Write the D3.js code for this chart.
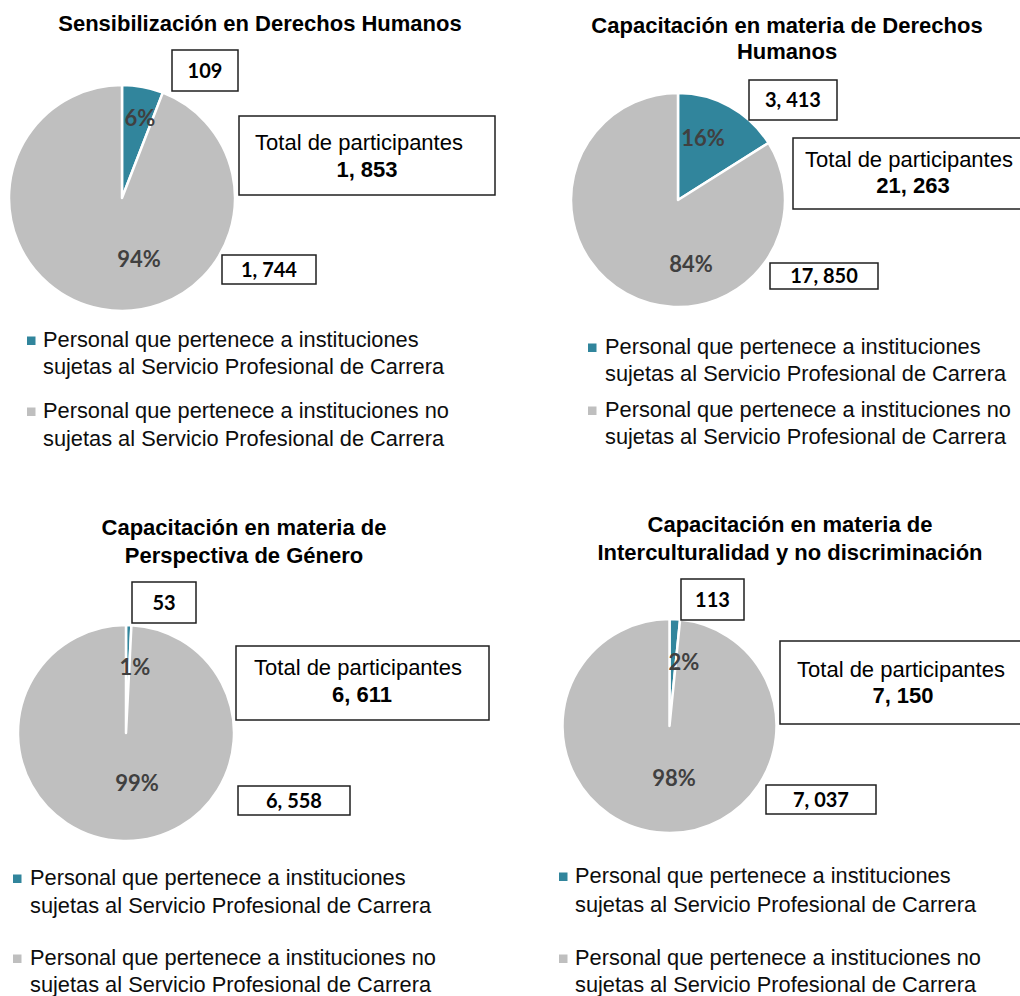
<!DOCTYPE html>
<html>
<head>
<meta charset="utf-8">
<script src="https://cdn.jsdelivr.net/npm/d3@7/dist/d3.min.js"></script>
<style>
  html, body { margin: 0; padding: 0; background: #ffffff; }
  svg { display: block; }
</style>
</head>
<body>
<svg id="chart" width="1020" height="996"></svg>
<script>
// ---------------- DATA ----------------
const chartTitles = [
  ["Sensibilización en Derechos Humanos"],
  ["Capacitación en materia de Derechos", "Humanos"],
  ["Capacitación en materia de", "Perspectiva de Género"],
  ["Capacitación en materia de", "Interculturalidad y no discriminación"]
];
const seriesNames = [
  ["Personal que pertenece a instituciones", "sujetas al Servicio Profesional de Carrera"],
  ["Personal que pertenece a instituciones no", "sujetas al Servicio Profesional de Carrera"]
];
const valuesSujetas = [109, 3413, 53, 113];
const valuesNoSujetas = [1744, 17850, 6558, 7037];
const totals = [1853, 21263, 6611, 7150];
const totalLabel = "Total de participantes";

// ---------------- LAYOUT (positions / sizes only) ----------------
const layout = [
  { title: { x: 260, y: 31, lh: 26 },
    pie: { cx: 122, cy: 198, r: 113 },
    pct: [[140, 118], [139, 259]],
    box1: { x: 172, y: 50, w: 66, h: 41 },
    box2: { x: 222, y: 255, w: 94, h: 29 },
    tbox: { x: 239, y: 116, w: 256, h: 79, t1x: 359, t1y: 150, t2x: 367, t2y: 177 },
    legend: { sx: 27, tx: 43, ys: [347, 374, 418, 446] } },
  { title: { x: 787, y: 33, lh: 25.5 },
    pie: { cx: 678, cy: 200, r: 107 },
    pct: [[703, 138], [691, 264]],
    box1: { x: 749, y: 80, w: 88, h: 40 },
    box2: { x: 770, y: 263, w: 108, h: 26 },
    tbox: { x: 793, y: 138, w: 240, h: 71, t1x: 909, t1y: 167, t2x: 913, t2y: 193 },
    legend: { sx: 588, tx: 605, ys: [354, 381, 417, 444] } },
  { title: { x: 244, y: 535, lh: 28 },
    pie: { cx: 126, cy: 733, r: 108 },
    pct: [[135, 667], [137, 783]],
    box1: { x: 132, y: 582, w: 64, h: 41 },
    box2: { x: 238, y: 786, w: 112, h: 29 },
    tbox: { x: 236, y: 646, w: 253, h: 74, t1x: 358, t1y: 675, t2x: 362, t2y: 702 },
    legend: { sx: 13, tx: 30, ys: [885, 913, 965, 992] } },
  { title: { x: 790, y: 532, lh: 28 },
    pie: { cx: 669.5, cy: 726, r: 107 },
    pct: [[684, 662], [674, 778]],
    box1: { x: 681, y: 579, w: 63, h: 41 },
    box2: { x: 766, y: 785, w: 110, h: 29 },
    tbox: { x: 780, y: 641, w: 250, h: 83, t1x: 901, t1y: 677, t2x: 903, t2y: 703 },
    legend: { sx: 559, tx: 575, ys: [883, 912, 965, 992] } }
];

const colors = d3.scaleOrdinal().domain([0, 1]).range(["#31859C", "#BFBFBF"]);
const arialFont = "Arial, 'Liberation Sans', Helvetica, sans-serif";
const calibriFont = "Lato, 'Open Sans', sans-serif";
const fmtNum = v => d3.format(",")(v).replace(/,/g, ", ");
const fmtPct = d3.format(".0%");

const svg = d3.select("#chart");
const pie = d3.pie().sort(null).value(d => d);

chartTitles.forEach((titleLines, i) => {
  const L = layout[i];
  const g = svg.append("g");
  const vals = [valuesSujetas[i], valuesNoSujetas[i]];
  const total = totals[i];

  // Title
  const t = g.append("text")
    .attr("x", L.title.x).attr("y", L.title.y)
    .attr("text-anchor", "middle")
    .style("font-family", arialFont).style("font-weight", "bold")
    .style("font-size", "22px").style("fill", "#000");
  titleLines.forEach((ln, k) => {
    t.append("tspan").attr("x", L.title.x).attr("y", L.title.y + k * L.title.lh).text(ln);
  });

  // Pie
  const arc = d3.arc().innerRadius(0).outerRadius(L.pie.r);
  const pg = g.append("g").attr("transform", `translate(${L.pie.cx},${L.pie.cy})`);
  pg.selectAll("path").data(pie(vals)).join("path")
    .attr("d", arc)
    .attr("fill", (d, k) => colors(k))
    .attr("stroke", "#ffffff")
    .attr("stroke-width", 2.5)
    .attr("stroke-linejoin", "round");

  // Percent labels
  vals.forEach((v, k) => {
    g.append("text")
      .attr("x", L.pct[k][0]).attr("y", L.pct[k][1] + 7.5)
      .attr("text-anchor", "middle")
      .style("font-family", calibriFont).style("font-weight", "bold")
      .style("font-size", "22px").style("fill", "#404040")
      .text(fmtPct(v / total));
  });

  // Value boxes
  [[L.box1, vals[0]], [L.box2, vals[1]]].forEach(([b, v]) => {
    g.append("rect")
      .attr("x", b.x).attr("y", b.y).attr("width", b.w).attr("height", b.h)
      .attr("fill", "#ffffff").attr("stroke", "#1f1f1f").attr("stroke-width", 1.5);
    g.append("text")
      .attr("x", b.x + b.w / 2).attr("y", b.y + b.h / 2 + 7)
      .attr("text-anchor", "middle")
      .style("font-family", calibriFont).style("font-weight", "bold")
      .style("font-size", "20px").style("fill", "#000")
      .text(fmtNum(v));
  });

  // Total box
  const tb = L.tbox;
  g.append("rect")
    .attr("x", tb.x).attr("y", tb.y).attr("width", tb.w).attr("height", tb.h)
    .attr("fill", "#ffffff").attr("stroke", "#1f1f1f").attr("stroke-width", 1.5);
  g.append("text")
    .attr("x", tb.t1x).attr("y", tb.t1y)
    .attr("text-anchor", "middle")
    .style("font-family", arialFont).style("font-size", "22px").style("fill", "#000")
    .text(totalLabel);
  g.append("text")
    .attr("x", tb.t2x).attr("y", tb.t2y)
    .attr("text-anchor", "middle")
    .style("font-family", arialFont).style("font-weight", "bold")
    .style("font-size", "22px").style("fill", "#000")
    .text(fmtNum(total));

  // Legend
  const lg = L.legend;
  seriesNames.forEach((lines, k) => {
    const by = lg.ys[k * 2];
    g.append("rect")
      .attr("x", lg.sx).attr("y", by - 10.5)
      .attr("width", 8.5).attr("height", 8.5)
      .attr("fill", colors(k));
    lines.forEach((ln, m) => {
      g.append("text")
        .attr("x", lg.tx).attr("y", lg.ys[k * 2 + m])
        .style("font-family", arialFont).style("font-size", "21.8px").style("fill", "#0d0d0d")
        .text(ln);
    });
  });
});
</script>
</body>
</html>
